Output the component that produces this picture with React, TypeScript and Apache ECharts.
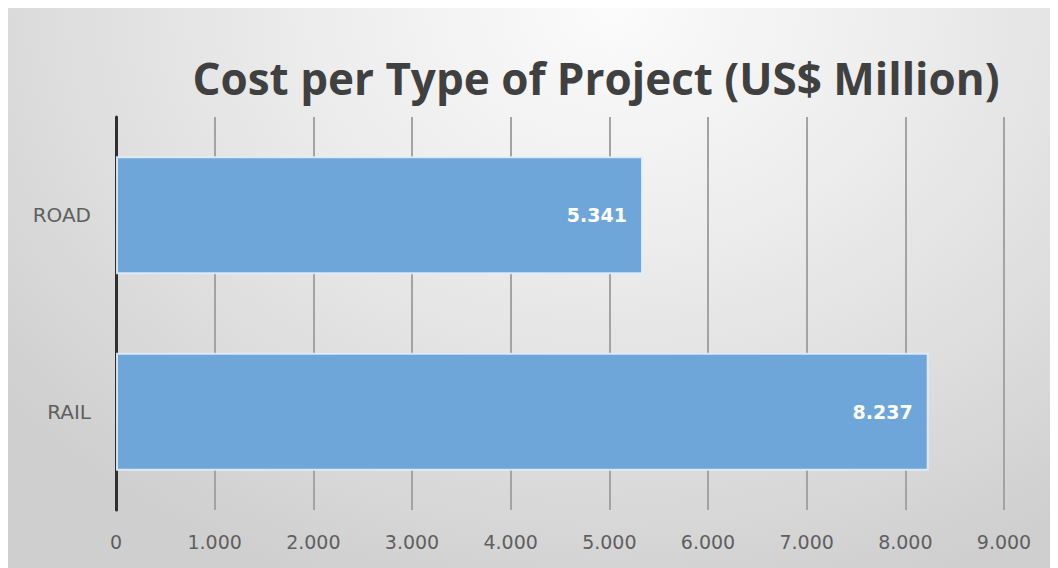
import React, { useEffect, useRef } from "react";
import * as echarts from "echarts";

const TITLE = "Cost per Type of Project (US$ Million)";
const categories = ["ROAD", "RAIL"];
const costs = [5341, 8237];
const xMin = 0;
const xMax = 9000;
const xStep = 1000;

function fmt(v: number): string {
  const s = Math.round(v).toString();
  return s.replace(/\B(?=(\d{3})+(?!\d))/g, ".");
}

export default function App() {
  const ref = useRef<HTMLDivElement>(null);
  useEffect(() => {
    if (!ref.current) return;
    const chart = echarts.init(ref.current, null, { renderer: "svg" });
    chart.setOption({
      animation: false,
      backgroundColor: "transparent",
      title: {
        text: TITLE,
        left: 583,
        top: 43,
        textAlign: "center",
        textStyle: {
          fontFamily: "Open Sans",
          fontWeight: "bold",
          fontSize: 44,
          color: "#404040",
        },
      },
      grid: { left: 108, right: 46, top: 109, bottom: 58, containLabel: false },
      xAxis: {
        type: "value",
        min: xMin,
        max: xMax,
        interval: xStep,
        axisLine: { show: false },
        axisTick: { show: false },
        axisLabel: {
          formatter: (v: number) => fmt(v),
          fontFamily: "DejaVu Sans",
          fontSize: 19,
          color: "#5f5f5f",
          margin: 22,
        },
        splitLine: {
          show: true,
          lineStyle: { width: 2, color: "#a3a3a3" },
        },
      },
      yAxis: {
        type: "category",
        data: categories,
        inverse: true,
        axisLine: { show: true, lineStyle: { color: "#2f2f2f", width: 3 } },
        axisTick: { show: false },
        axisLabel: {
          fontFamily: "DejaVu Sans",
          fontSize: 20,
          color: "#5f5f5f",
          margin: 25,
        },
        splitLine: { show: false },
      },
      series: [
        {
          type: "bar",
          data: costs,
          barWidth: "60%",
          itemStyle: {
            color: "#6ea6d9",
            borderColor: "rgba(225,238,250,0.9)",
            borderWidth: 2,
          },
          label: {
            show: true,
            position: "insideRight",
            distance: 16,
            formatter: (p: any) => fmt(p.value),
            fontFamily: "DejaVu Sans",
            fontWeight: "bold",
            fontSize: 19,
            color: "#ffffff",
          },
        },
      ],
    });
    return () => chart.dispose();
  }, []);
  return (
    <div
      ref={ref}
      style={{
        width: 1042,
        height: 560,
        background:
          "radial-gradient(ellipse 75% 110% at 58% 0%, #fbfbfb 0%, #eeeeee 35%, #dedede 70%, #cfcfcf 100%)",
      }}
    />
  );
}
